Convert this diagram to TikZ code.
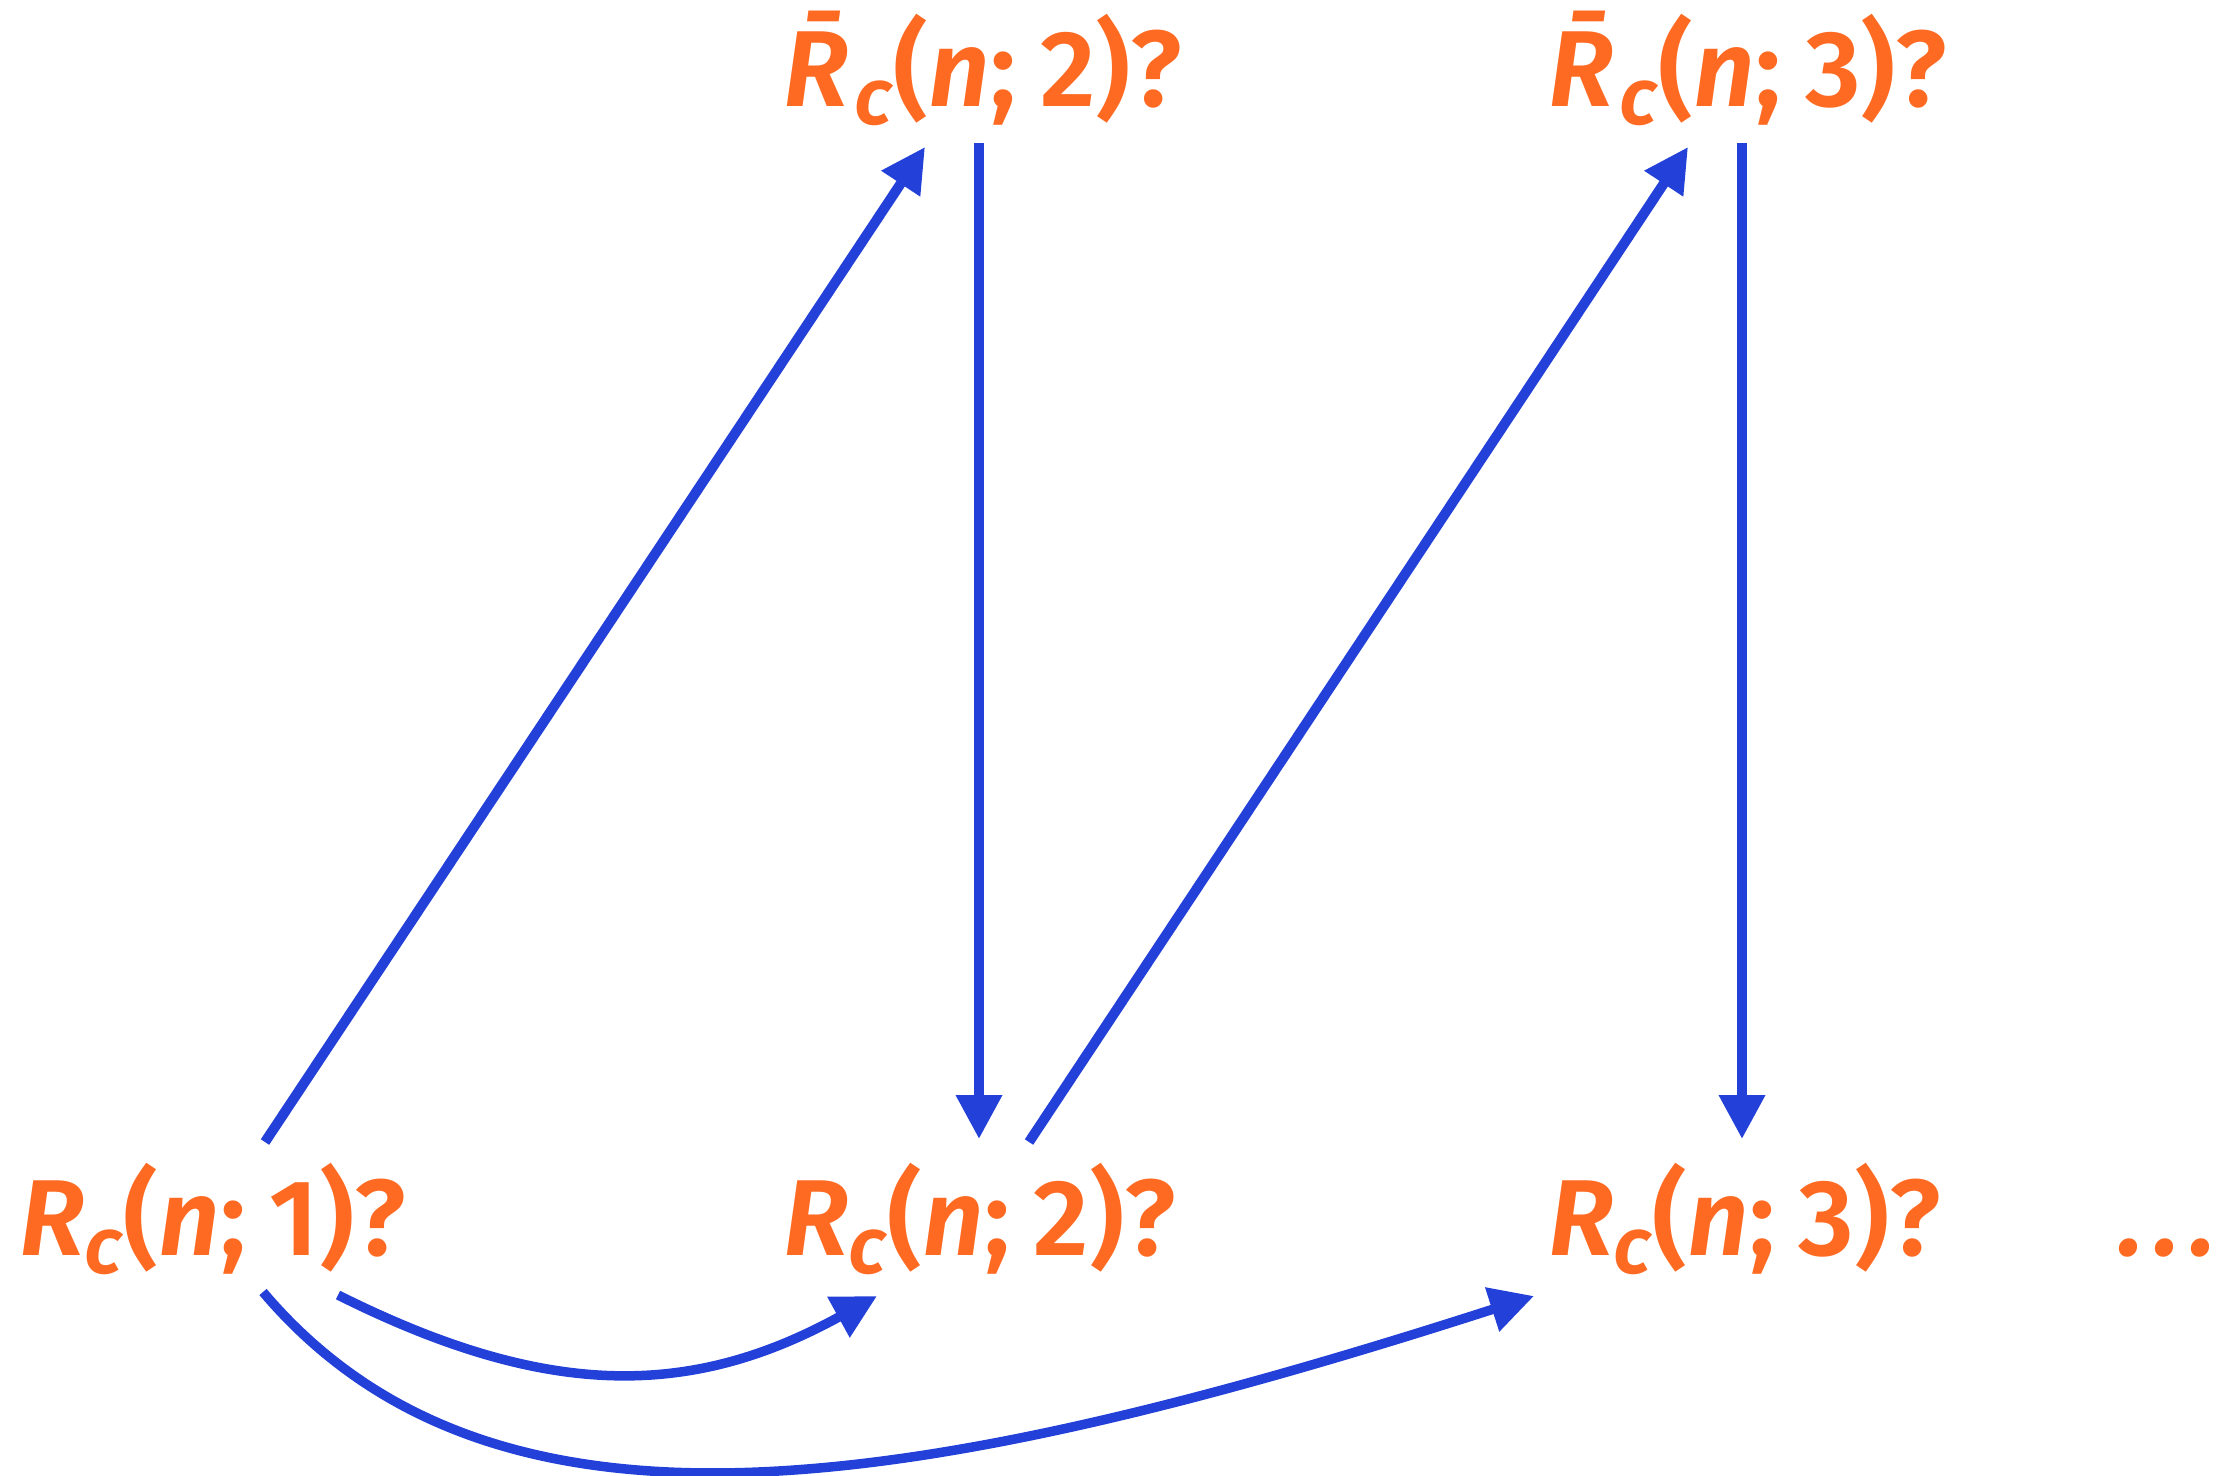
\documentclass[tikz,border=0pt]{standalone}
\usepackage{fontspec}
\setmainfont{Fira Sans}[UprightFont={* SemiBold},ItalicFont={* SemiBold Italic}]
\usetikzlibrary{arrows.meta}
\definecolor{lbl}{HTML}{FF6A22}
\definecolor{arr}{HTML}{2340D8}
\newcommand{\lab}[2]{\textit{#1}\raisebox{-0.17em}{\fontsize{80}{82}\selectfont\textit{c}}(\textit{n};\hspace{0.22em}#2)?}
\begin{document}
\begin{tikzpicture}[x=1pt,y=-1pt,
  lbltext/.style={inner sep=0pt, anchor=base west, text=lbl, font=\fontsize{108}{120}\selectfont},
  conn/.style={draw=arr, line width=10pt, -{Triangle[length=44pt,width=44pt]}},
  connc/.style={draw=arr, line width=9.5pt, -{Triangle[length=44pt,width=44pt]}}]
\useasboundingbox (0,0) rectangle (2219,1475);
\node[lbltext] (t2) at (783,106) {\lab{\=R}{2}};
\node[lbltext] (t3) at (1548,106) {\lab{\=R}{3}};
\node[lbltext] (b1) at (19,1255) {\lab{R}{1}};
\node[lbltext] (b2) at (783,1255) {\lab{R}{2}};
\node[lbltext] (b3) at (1548,1255) {\lab{R}{3}};
\node[lbltext] (dots) at (2118,1255) {\textit{.\hspace{10pt}.\hspace{10pt}.}};
\coordinate (b1n) at (265,1142);
\coordinate (t2s) at (925,147);
\coordinate (t2d) at (979,143);
\coordinate (b2n) at (979,1139);
\coordinate (b2e) at (1029,1142);
\coordinate (t3s) at (1688,147);
\coordinate (t3d) at (1742,143);
\coordinate (b3n) at (1742,1139);
\coordinate (b1a) at (338,1295);
\coordinate (b2s) at (877,1296);
\coordinate (b1b) at (263,1292);
\coordinate (b3s) at (1534,1296);
\draw[conn] (b1n) -- (t2s);
\draw[conn] (t2d) -- (b2n);
\draw[conn] (b2e) -- (t3s);
\draw[conn] (t3d) -- (b3n);
\draw[connc] (b1a) .. controls (546,1399) and (690,1399) .. (b2s);
\draw[connc] (b1b) .. controls (490,1560) and (900,1500) .. (b3s);
\end{tikzpicture}
\end{document}
